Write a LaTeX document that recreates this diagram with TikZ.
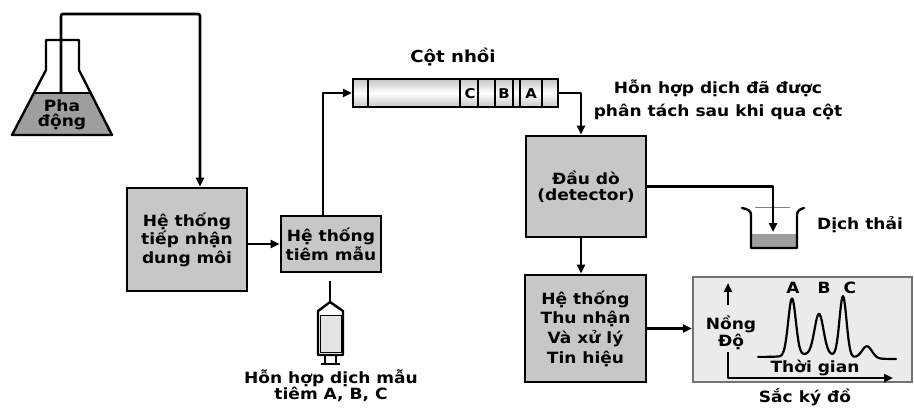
\documentclass[tikz,border=0pt]{standalone}
\usepackage{fontspec}
\newfontfamily\lblfont[FakeStretch=1.1]{DejaVu Sans}
\usetikzlibrary{arrows.meta}
\definecolor{boxgray}{gray}{0.78}
\definecolor{liquid}{gray}{0.62}
\definecolor{chromfill}{gray}{0.92}
\definecolor{chromedge}{gray}{0.45}
\begin{document}
\begin{tikzpicture}[x=1pt,y=-1pt,
  lbl/.style={font=\lblfont\bfseries\fontsize{15.5}{19}\selectfont, align=center, inner sep=0pt},
  unit/.style={lbl, draw=black, line width=2.8pt, fill=boxgray},
  pipe/.style={line width=2.7pt, line join=round},
  arr/.style={pipe, -{Triangle[length=9pt,width=8pt]}},
  trace/.style={line width=2.2pt, line join=round, line cap=round},
]
\useasboundingbox (0,0) rectangle (914,408);

% ---- mobile phase flask ----
\fill[liquid] (34,93) -- (12,135) -- (112,135) -- (91,93) -- cycle;
\draw[line width=1.2pt] (34,93) -- (91,93);
\draw[line width=2.4pt, line join=round] (46,40) -- (46,70) -- (12,135) -- (112,135) -- (79,70) -- (79,40) -- cycle;
\node[lbl, font=\lblfont\bfseries\fontsize{15.5}{15}\selectfont] (phase) at (62,115) {Pha\\động};
\coordinate (tube) at (61,93);
\coordinate (topbend) at (200,14);

% ---- process units ----
\node[unit, minimum width=120pt, minimum height=103pt, font=\lblfont\bfseries\fontsize{15.5}{18.5}\selectfont] (recv) at (187,239.5) {Hệ thống\\tiếp nhận\\dung môi};
\node[unit, minimum width=100pt, minimum height=56pt] (inj) at (331,244) {Hệ thống\\tiêm mẫu};
\node[unit, minimum width=120pt, minimum height=101pt, font=\lblfont\bfseries\fontsize{15.5}{16}\selectfont] (det) at (586,186.5) {Đầu dò\\(detector)};
\node[unit, minimum width=121pt, minimum height=107pt, font=\lblfont\bfseries\fontsize{15.5}{19.7}\selectfont] (proc) at (585.5,328.5) {Hệ thống\\Thu nhận\\Và xử lý\\Tin hiệu};

% ---- packed column ----
\node[draw=black, line width=2.2pt, shading=axis, top color=gray!45, bottom color=gray!45, middle color=white,
      minimum width=205pt, minimum height=28pt, inner sep=0pt] (col) at (455.5,93) {};
\foreach \xx in {368,460,478,495,513,520,542}
  \draw[line width=1.5pt] (\xx,79) -- (\xx,107);
\node[lbl, font=\lblfont\bfseries\fontsize{13.5}{13}\selectfont] (bandC) at (470,94) {C};
\node[lbl, font=\lblfont\bfseries\fontsize{13.5}{13}\selectfont] (bandB) at (504,94) {B};
\node[lbl, font=\lblfont\bfseries\fontsize{13.5}{13}\selectfont] (bandA) at (531,94) {A};
\node[lbl, font=\lblfont\bfseries\fontsize{16.5}{19}\selectfont] (coltitle) at (453,57) {Cột nhồi};

% ---- syringe ----
\coordinate (needle) at (330,281);
\draw[line width=2pt] (needle) -- (330,302);
\draw[line width=2.4pt, line join=round, fill=white] (318,355) -- (318,311) -- (330,302) -- (343,311) -- (343,355) -- cycle;
\draw[line width=1pt, fill=gray!22] (320,315) rectangle (341,352);
\draw[line width=2.4pt] (325,355) -- (325,364) (336,355) -- (336,364);
\draw[line width=2.4pt] (321,364) -- (340,364);
\node[lbl, font=\lblfont\bfseries\fontsize{15.5}{16}\selectfont] (sample) at (331,386) {Hỗn hợp dịch mẫu\\tiêm A, B, C};

% ---- waste beaker ----
\fill[liquid] (751,234) rectangle (797,248);
\draw[line width=1pt, gray] (755,207) -- (790,207);
\draw[line width=2.4pt, line cap=round, line join=round] (742,208) .. controls (748,209) and (751,211) .. (751,215) -- (751,248) -- (797,248) -- (797,215) .. controls (797,211) and (800,209) .. (804,208);
\coordinate (drain) at (773,232);
\node[lbl] (waste) at (860,225) {Dịch thải};

\node[lbl, font=\lblfont\bfseries\fontsize{15.5}{23}\selectfont] (mix) at (718,100) {Hỗn hợp dịch đã được\\phân tách sau khi qua cột};

% ---- chromatogram ----
\node[draw=chromedge, line width=2.4pt, fill=chromfill, minimum width=219pt, minimum height=105pt, inner sep=0pt] (chrom) at (802.5,329.5) {};
\coordinate (origin) at (728,378);
\draw[line width=2.4pt, -{Triangle[length=9pt,width=8pt]}] (728,305) -- (728,283);
\draw[line width=2.4pt, line join=round, -{Triangle[length=9pt,width=8pt]}] (728,352) -- (origin) -- (893,378);
\node[lbl, font=\lblfont\bfseries\fontsize{15.5}{17}\selectfont] (conc) at (731,333) {Nồng\\Độ};
\draw[trace] plot[domain=758:896, samples=220]
  (\x, {357 + 0.015*(\x-758)
        - 57*exp(-min(((\x-792)/3.8)^2/2,9))
        - 40*exp(-min(((\x-819)/4.5)^2/2,9))
        - 60*exp(-min(((\x-843)/3.5)^2/2,9))
        - 12*exp(-min(((\x-867)/5)^2/2,9))
        -  4*exp(-min(((\x-818)/22)^2/2,9))});
\node[lbl] (pkA) at (793,288) {A};
\node[lbl] (pkB) at (824,288) {B};
\node[lbl] (pkC) at (850,288) {C};
\node[lbl] (time) at (815,368) {Thời gian};
\node[lbl] (chromtitle) at (805,397) {Sắc ký đồ};

% ---- connectors ----
\draw[arr, rounded corners=2pt] (tube) |- (topbend) -- (topbend |- recv.north);
\draw[arr] (recv.east |- inj.west) -- (inj.west);
\draw[arr] ([xshift=-8pt]inj.north) |- (col.west);
\draw[arr] (col.east) -| ([xshift=-5pt]det.north);
\draw[arr] (det.east) -| (drain);
\draw[arr] ([xshift=-5pt]det.south) -- ([xshift=-5pt]det.south |- proc.north);
\draw[arr] (proc.east) -- (proc.east -| chrom.west);
\end{tikzpicture}
\end{document}
